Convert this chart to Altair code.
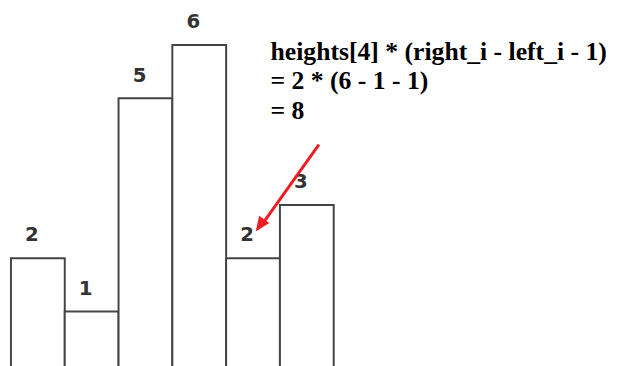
import altair as alt
import pandas as pd

heights = [2, 1, 5, 6, 2, 3]
index = [0, 1, 2, 3, 4, 5]
labels = [str(h) for h in heights]
annotation = "heights[4] * (right_i - left_i - 1)\n= 2 * (6 - 1 - 1)\n= 8"

df = pd.DataFrame({
    "i": index,
    "i_end": [v + 1 for v in index],
    "mid": [v + 0.5 for v in index],
    "h": heights,
    "label": labels,
})

xs = alt.Scale(domain=[-0.055, 11.229], nice=False, zero=False)
ys = alt.Scale(domain=[-0.389, 6.648], nice=False, zero=False)

base = alt.Chart(df)

bars = base.mark_rect(fill="white", stroke="#444444", strokeWidth=2, clip=True).encode(
    x=alt.X("i:Q", scale=xs, axis=None),
    x2="i_end:Q",
    y=alt.Y("h:Q", scale=ys, axis=None),
    y2=alt.Y2Value("height"),
)

text = base.mark_text(
    font="DejaVu Sans", fontWeight="bold", fontSize=20, color="#333333",
    baseline="middle", align="center", dx=-6, dy=-23,
).encode(
    x=alt.X("mid:Q", scale=xs, axis=None),
    y=alt.Y("h:Q", scale=ys, axis=None),
    text="label:N",
)

ann = alt.Chart(pd.DataFrame({"t": [annotation]})).mark_text(
    font="Liberation Serif",
    fontWeight="bold", fontSize=26, color="black",
    align="left", baseline="alphabetic", lineBreak="\n", lineHeight=30,
).encode(x=alt.value(266), y=alt.value(50), text="t:N")

arrow_line = alt.Chart(pd.DataFrame({"a": [0]})).mark_rule(
    color="#ee1c25", strokeWidth=3
).encode(x=alt.value(315), y=alt.value(136), x2=alt.value(258), y2=alt.value(216))

arrow_head = alt.Chart(pd.DataFrame({"a": [0]})).mark_point(
    shape="M0,0L-0.42,1L0.42,1Z", filled=True, color="#ee1c25", opacity=1,
    size=900, angle=215,
).encode(x=alt.value(251), y=alt.value(224))

chart = alt.layer(bars, text, ann, arrow_line, arrow_head).properties(
    width=615, height=380, padding=0, autosize="none", background="white"
).configure_view(stroke=None)

chart.save("out.html", embed_options={"renderer": "svg", "actions": False})
